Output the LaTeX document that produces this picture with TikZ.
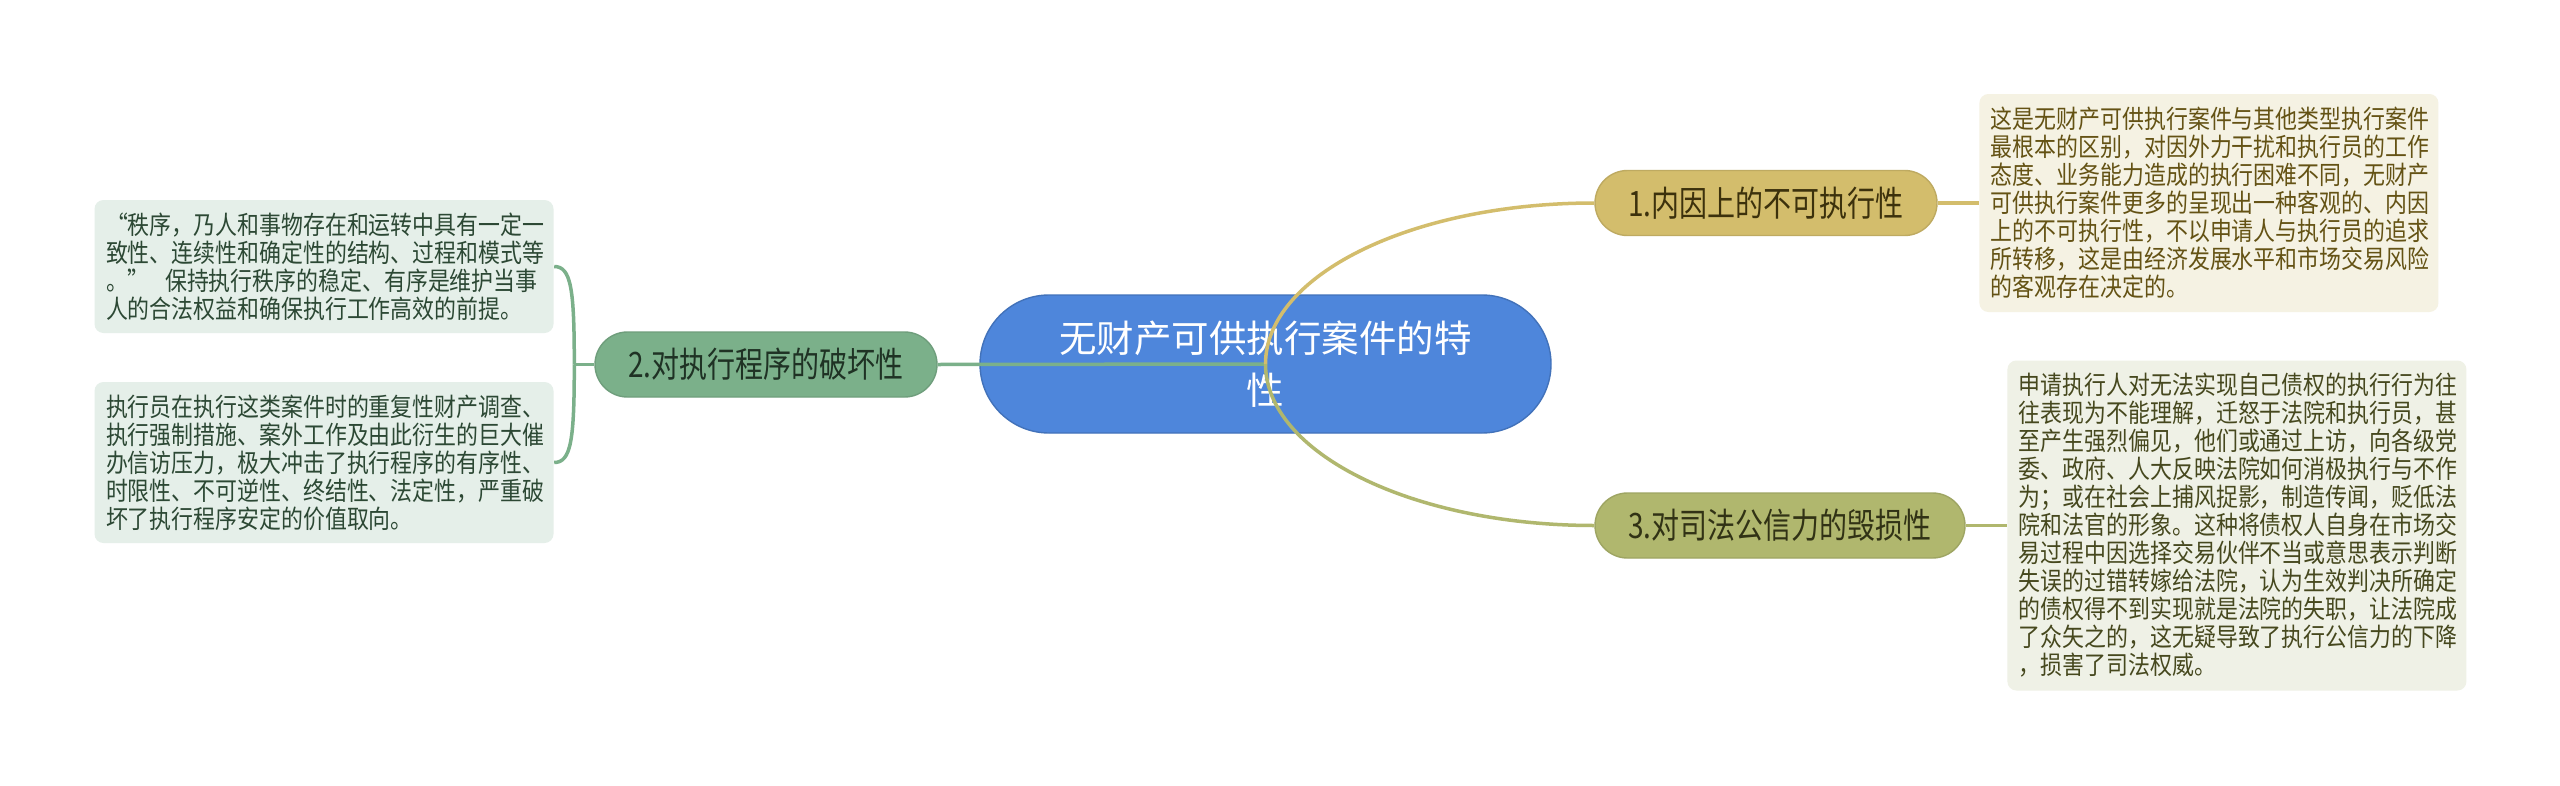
\documentclass[tikz,border=0pt]{standalone}
\usepackage{fontspec}
\usepackage{xcolor}
\usepackage{tikz}
\usetikzlibrary{positioning}
\setmainfont{Noto Sans CJK SC}
\newfontfamily\hanroot{Noto Sans CJK SC}
\newfontfamily\hanbranch[FakeStretch=0.8]{Noto Sans CJK SC}
\newfontfamily\hannote[FakeStretch=0.86]{Noto Sans CJK SC}
\definecolor{RootBlue}{RGB}{78,134,219}
\definecolor{GoldB}{RGB}{211,189,108}
\definecolor{GreenB}{RGB}{123,176,138}
\definecolor{OliveB}{RGB}{176,183,110}
\definecolor{GoldNote}{RGB}{245,242,227}
\definecolor{GreenNote}{RGB}{229,239,233}
\definecolor{OliveNote}{RGB}{239,241,230}
\definecolor{GoldText}{RGB}{100,82,20}
\definecolor{GreenText}{RGB}{44,72,52}
\definecolor{OliveText}{RGB}{70,72,30}
\tikzset{
  root/.style={draw=RootBlue!85!black,fill=RootBlue,text=white,line width=0.4pt,
               rounded corners=0.69cm,minimum width=5.71cm,minimum height=1.38cm,
               align=center,font=\hanroot\fontsize{10.67}{14.8}\selectfont},
  branch/.style={rounded corners=0.325cm,minimum height=0.65cm,inner sep=0pt,
                 font=\hanbranch\fontsize{9.96}{12}\selectfont},
  note/.style={rounded corners=0.09cm,text width=4.36cm,inner xsep=0.115cm,
               inner ysep=0pt,align=left,font=\hannote\fontsize{7.25}{7.97}\selectfont},
  link/.style={line width=0.035cm},
}

\begin{document}
\begin{tikzpicture}
  \fill[white] (0,0) rectangle (25.6,-7.85);
  \useasboundingbox (0,0) rectangle (25.6,-7.85);

  \node[root] (c) at (12.655,-3.64) {无财产可供执行案件的特\\性};

  \node[branch,fill=GoldB,draw=GoldB!90!black,text=GoldText!60!black,minimum width=3.42cm]
    (n1) at (17.66,-2.03) {1.内因上的不可执行性};
  \node[branch,fill=GreenB,draw=GreenB!90!black,text=GreenText!70!black,minimum width=3.42cm]
    (n2) at (7.66,-3.645) {2.对执行程序的破坏性};
  \node[branch,fill=OliveB,draw=OliveB!90!black,text=OliveText!70!black,minimum width=3.70cm]
    (n3) at (17.80,-5.255) {3.对司法公信力的毁损性};

  \node[note,fill=GoldNote,text=GoldText,minimum height=2.18cm,right=0.41 of n1] (b1)
  {这是无财产可供执行案件与其他类型执行案件\\
   最根本的区别，对因外力干扰和执行员的工作\\
   态度、业务能力造成的执行困难不同，无财产\\
   可供执行案件更多的呈现出一种客观的、内因\\
   上的不可执行性，不以申请人与执行员的追求\\
   所转移，这是由经济发展水平和市场交易风险\\
   的客观存在决定的。};

  \node[note,fill=OliveNote,text=OliveText,minimum height=3.30cm,right=0.41 of n3] (b3)
  {申请执行人对无法实现自己债权的执行行为往\\
   往表现为不能理解，迁怒于法院和执行员，甚\\
   至产生强烈偏见，他们或通过上访，向各级党\\
   委、政府、人大反映法院如何消极执行与不作\\
   为；或在社会上捕风捉影，制造传闻，贬低法\\
   院和法官的形象。这种将债权人自身在市场交\\
   易过程中因选择交易伙伴不当或意思表示判断\\
   失误的过错转嫁给法院，认为生效判决所确定\\
   的债权得不到实现就是法院的失职，让法院成\\
   了众矢之的，这无疑导致了执行公信力的下降\\
   ，损害了司法权威。};

  \node[note,fill=GreenNote,text=GreenText,minimum height=1.33cm] (ba) at (3.24,-2.665)
  {“秩序，乃人和事物存在和运转中具有一定一\\
   致性、连续性和确定性的结构、过程和模式等\\
   。”\hspace{0.6em}保持执行秩序的稳定、有序是维护当事\\
   人的合法权益和确保执行工作高效的前提。};

  \node[note,fill=GreenNote,text=GreenText,minimum height=1.61cm] (bb) at (3.24,-4.625)
  {执行员在执行这类案件时的重复性财产调查、\\
   执行强制措施、案外工作及由此衍生的巨大催\\
   办信访压力，极大冲击了执行程序的有序性、\\
   时限性、不可逆性、终结性、法定性，严重破\\
   坏了执行程序安定的价值取向。};

  \draw[link,GreenB] (c.center) -- (n2.east);
  \draw[link,GoldB] (c.center) .. controls +(0,0.89) and +(-1.82,0) .. (n1.west);
  \draw[link,OliveB] (c.center) .. controls +(0,-0.89) and +(-1.82,0) .. (n3.west);

  \draw[link,GoldB] (n1.east) -- (b1.west);
  \draw[link,OliveB] (n3.east) -- (b3.west);

  \draw[link,GreenB] (n2.west) -- ++(-0.2,0) coordinate (fork);
  \draw[link,GreenB] (fork) .. controls +(0,0.75) and +(0.17,0) .. (ba.east);
  \draw[link,GreenB] (fork) .. controls +(0,-0.75) and +(0.17,0) .. (bb.east);
\end{tikzpicture}
\end{document}
